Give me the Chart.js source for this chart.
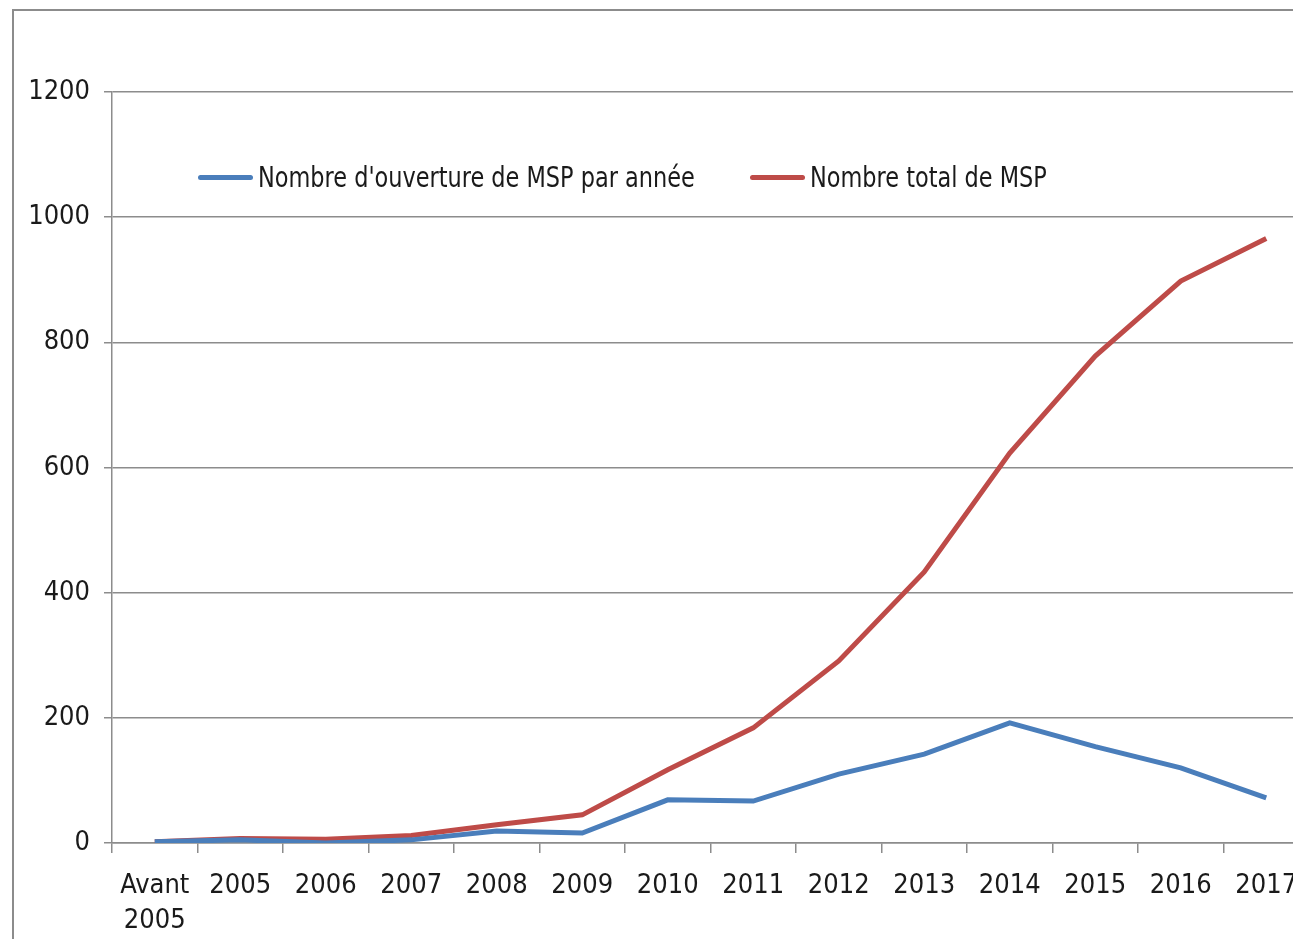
<!DOCTYPE html>
<html>
<head>
<meta charset="utf-8">
<script src="https://cdn.jsdelivr.net/npm/chart.js@4"></script>
<style>
  html, body { margin: 0; padding: 0; background: #fff; overflow: hidden; }
  body { width: 1293px; height: 939px; position: relative; font-family: "DejaVu Sans Condensed", sans-serif; }
  .frame { position: absolute; left: 12px; top: 9px; width: 1400px; height: 1000px; border: 2px solid #8c8c8c; box-sizing: border-box; }
  .chart-wrap { position: absolute; left: 0; top: 0; width: 1320px; height: 939px; }
  .legend { position: absolute; top: 161px; left: 198px; height: 34px; font-size: 28px; color: #1a1a1a; }
  .legend span { position: absolute; top: 0; display: flex; align-items: center; white-space: nowrap; }
  .legend i { display: inline-block; width: 55px; height: 5px; border-radius: 3px; margin-right: 5px; }
  .legend b { font-weight: normal; display: inline-block; transform: scaleX(0.89); transform-origin: left center; }
</style>
</head>
<body>
<div class="frame"></div>
<div class="chart-wrap"><canvas id="chart-line" width="1320" height="939"></canvas></div>
<div class="legend" id="line-legend"></div>
<script>
// categories
const years = [["Avant", "2005"], "2005", "2006", "2007", "2008", "2009", "2010", "2011", "2012", "2013", "2014", "2015", "2016", "2017"];
// series
const openings = [2, 5, 0, 5, 19, 16, 69, 67, 110, 142, 192, 154, 120, 72];
const totalMsp = [2, 7, 6, 12, 29, 45, 117, 184, 291, 433, 623, 778, 898, 966];
const seriesNames = ["Nombre d'ouverture de MSP par année", "Nombre total de MSP"];
const yTicks = [0, 200, 400, 600, 800, 1000, 1200];

const colors = ["#4a7ebb", "#be4b48"];
const fontFamily = "'DejaVu Sans Condensed', sans-serif";
const axisGray = "#8c8c8c";

const ctx = document.getElementById("chart-line");
const chart = new Chart(ctx, {
  type: "line",
  data: {
    labels: years,
    datasets: [
      { label: seriesNames[0], data: openings, borderColor: colors[0], backgroundColor: colors[0], borderWidth: 5, pointRadius: 0, tension: 0 },
      { label: seriesNames[1], data: totalMsp, borderColor: colors[1], backgroundColor: colors[1], borderWidth: 5, pointRadius: 0, tension: 0 },
    ],
  },
  options: {
    responsive: false,
    animation: false,
    layout: { padding: { left: 0, top: 92, right: 11, bottom: 0 } },
    plugins: { legend: { display: false }, tooltip: { enabled: false } },
    scales: {
      x: {
        offset: true,
        grid: { offset: true, drawOnChartArea: false, tickLength: 10, color: axisGray, lineWidth: 1.5 },
        border: { color: axisGray, width: 1.5 },
        ticks: { color: "#1a1a1a", font: { family: fontFamily, size: 27, lineHeight: 1.28 }, padding: 16, maxRotation: 0, autoSkip: false },
        afterFit: (s) => { s.height = 96; },
      },
      y: {
        min: 0, max: 1200,
        afterBuildTicks: (s) => { s.ticks = yTicks.map((v) => ({ value: v })); },
        grid: { tickLength: 8, color: axisGray, lineWidth: 1.5 },
        border: { color: axisGray, width: 1.5 },
        ticks: { color: "#1a1a1a", font: { family: fontFamily, size: 27 }, padding: 14, callback: (v) => String(v) },
        afterFit: (s) => { s.width = 112; },
      },
    },
  },
});

// legend inside the plot, like the original
const legend = document.getElementById("line-legend");
const legendX = [0, 552];
chart.data.datasets.forEach((d, i) => {
  const span = document.createElement("span");
  span.style.left = legendX[i] + "px";
  const dot = document.createElement("i");
  dot.style.background = d.borderColor;
  const txt = document.createElement("b");
  txt.textContent = d.label;
  span.append(dot, txt);
  legend.appendChild(span);
});
</script>
</body>
</html>
